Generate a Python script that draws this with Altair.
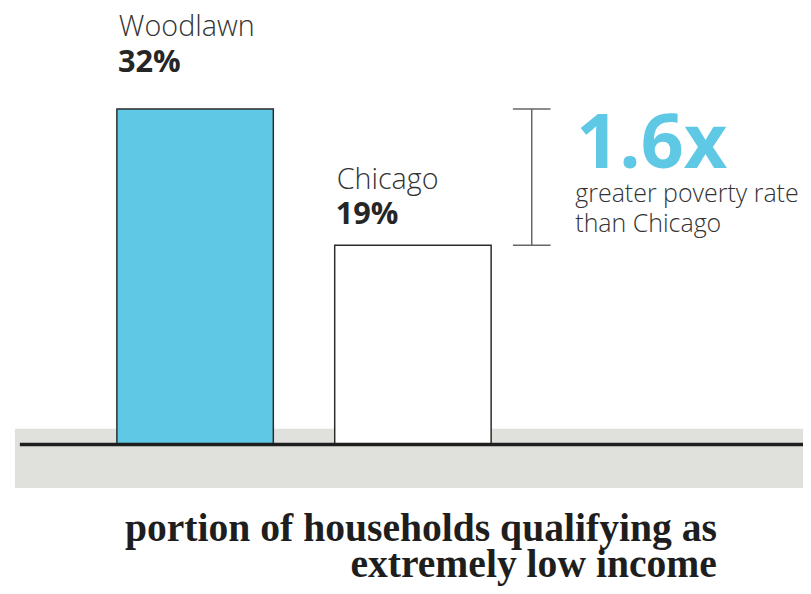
import altair as alt
import pandas as pd

categories = ["Woodlawn", "Chicago"]
values = [32, 19]
value_labels = ["32%", "19%"]
ratio_label = "1.6x"
ratio_caption = ["greater poverty rate", "than Chicago"]
title_lines = ["portion of households qualifying as", "extremely low income"]

df = pd.DataFrame({"cat": categories, "value": values, "label": value_labels})

BLUE = "#5ec8e5"
DARK = "#2b2b2b"
GREY_BAND = "#e0e0dc"
BRACKET = "#666666"

W, H = 803, 586
xs = alt.Scale(domain=categories, paddingInner=0.2818, paddingOuter=0.9659, align=0.2588, round=False)
ys = alt.Scale(domain=[-13.97, 41.344], nice=False, zero=False)

base = alt.Chart(df)
one = alt.Data(values=[{"a": 1}])

band = alt.Chart(one).mark_rect(color=GREY_BAND).encode(
    x=alt.value(7), x2=alt.value(803), y=alt.value(422), y2=alt.value(482)
)

bars = base.mark_bar(stroke=DARK, strokeWidth=1.5).encode(
    x=alt.X("cat:N", scale=xs, axis=None, sort=categories),
    y=alt.Y("value:Q", scale=ys, axis=None),
    y2=alt.Y2(datum=0),
    fill=alt.Fill("cat:N", scale=alt.Scale(domain=categories, range=[BLUE, "#ffffff"]), legend=None),
)

baseline = base.transform_aggregate(z="min(value)").transform_calculate(z0="0").mark_rule(
    color="#1e1e1e", strokeWidth=3.5).encode(
    x=alt.value(12), x2=alt.value(803), y=alt.Y("z0:Q", scale=ys, axis=None)
)

def labels(cat, dy_name, dy_val):
    sub = base.transform_filter(alt.datum.cat == cat)
    enc_x = alt.X("cat:N", scale=xs, axis=None, sort=categories, bandPosition=0)
    enc_y = alt.Y("value:Q", scale=ys, axis=None)
    name = sub.mark_text(align="left", baseline="alphabetic", dx=2, dy=dy_name,
                         font="Open Sans", fontWeight=300, fontSize=29, color="#333333").encode(
        x=enc_x, y=enc_y, text="cat:N")
    val = sub.mark_text(align="left", baseline="alphabetic", dx=1, dy=dy_val,
                        font="Open Sans", fontWeight="bold", fontSize=31, color="#262626").encode(
        x=enc_x, y=enc_y, text="label:N")
    return [name, val]

lab = labels("Woodlawn", -74, -37) + labels("Chicago", -57, -21)

agg = base.transform_aggregate(hi="max(value)", lo="min(value)")
br_v = agg.mark_rule(color=BRACKET, strokeWidth=1.5).encode(
    x=alt.value(529), y=alt.Y("hi:Q", scale=ys, axis=None), y2="lo:Q")
br_t = agg.mark_rule(color=BRACKET, strokeWidth=1.5).encode(
    x=alt.value(510), x2=alt.value(548), y=alt.Y("hi:Q", scale=ys, axis=None))
br_b = agg.mark_rule(color=BRACKET, strokeWidth=1.5).encode(
    x=alt.value(510), x2=alt.value(548), y=alt.Y("lo:Q", scale=ys, axis=None))

ratio = alt.Chart(one).mark_text(
    text=ratio_label, align="left", baseline="alphabetic", font="Open Sans", fontWeight="bold",
    fontSize=76, color=BLUE
).encode(x=alt.value(574), y=alt.value(159))

cap = alt.Chart(one).mark_text(
    text=ratio_caption, align="left", baseline="alphabetic", font="Open Sans", fontWeight=300,
    fontSize=25.2, color="#333333", lineHeight=30
).encode(x=alt.value(573), y=alt.value(193))

title = alt.Chart(one).mark_text(
    text=title_lines, align="right", baseline="alphabetic", font="Liberation Serif", fontWeight="bold",
    fontSize=40, color="#1e1e1e", lineHeight=37
).encode(x=alt.value(716), y=alt.value(535))

chart = alt.layer(band, bars, baseline, *lab, br_v, br_t, br_b, ratio, cap, title).properties(
    width=W, height=H, autosize=alt.AutoSizeParams(type="none"), padding=0, background="white"
).configure_view(stroke=None)

chart.save("out.html", embed_options={"renderer": "svg", "actions": False})
